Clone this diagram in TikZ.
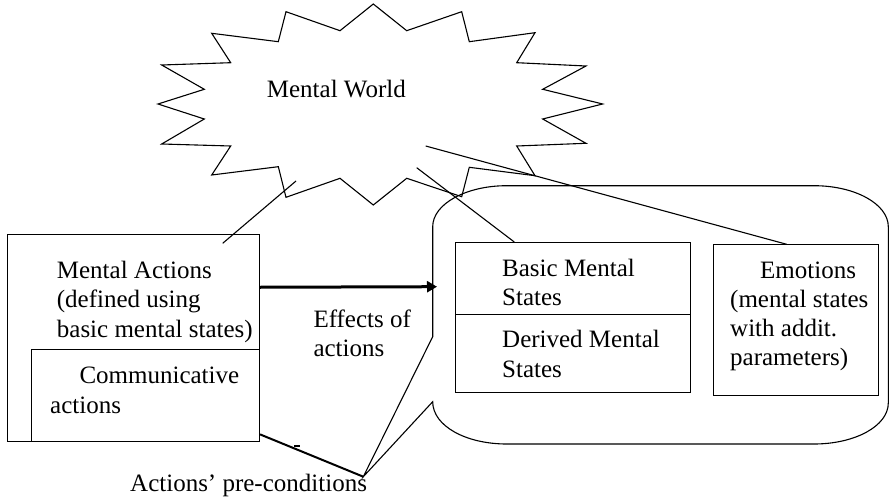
\documentclass[tikz,border=0pt]{standalone}
\usepackage{fontspec}
\setmainfont{Liberation Serif}
\usetikzlibrary{arrows.meta}
\begin{document}
\begin{tikzpicture}[x=1pt,y=-1pt,
  txt/.style={anchor=base west, inner sep=0pt, font=\fontsize{25}{30}\selectfont},
  outline/.style={draw, line width=1.1pt, line join=miter},
  box/.style={draw, line width=1.1pt, anchor=north west, inner sep=0pt},
  link/.style={line width=1.1pt},
  bold link/.style={line width=2pt},
  effect/.style={line width=3pt, -{Triangle[length=10pt,width=11pt]}}]
\useasboundingbox (0,0) rectangle (889,503);

% starburst: the mental world
\draw[outline] (373.3,4) -- (406.7,30.7) -- (461.7,11.7) -- (469.3,41.7)
  -- (535,32.7) -- (516.7,62.7) -- (586,66) -- (542.7,89.3) -- (602.7,104)
  -- (542.7,119) -- (586,143.3) -- (516.7,146) -- (535,175.7) -- (469.3,167.3)
  -- (461.7,196.7) -- (406.7,178.3) -- (373.3,205) -- (340,178.3) -- (286,197.3)
  -- (278.3,166.7) -- (211.7,175) -- (230.7,146) -- (161.7,144) -- (204.3,119)
  -- (158,104) -- (204.3,89.3) -- (161.7,65) -- (230.7,62.7) -- (211.7,33.3)
  -- (278.3,41.7) -- (286,11.7) -- (340,30.7) -- cycle;
\node[txt] (world) at (266.7,97) {Mental World};

% rounded callout holding the mental states
\coordinate (tip) at (363.3,476.7);
\draw[outline] (506.7,185.7) -- (814,185.7)
  .. controls (855,185.7) and (888.3,204) .. (888.3,226.7)
  -- (888.3,403)
  .. controls (888.3,426) and (855,444) .. (814,444)
  -- (506.7,444)
  .. controls (466,444) and (432.7,426) .. (432.7,401.7)
  -- (tip) -- (432.7,336.7) -- (432.7,226.7)
  .. controls (432.7,204) and (466,185.7) .. (506.7,185.7);
\coordinate (cl) at (437,286.7);

% mental actions
\node[box, minimum width=252pt, minimum height=207pt] (ma) at (7,234) {};
\node[box, minimum width=228.3pt, minimum height=91.7pt] (ca) at (30.7,349.3) {};
\node[txt] (ma1) at (56.7,278) {Mental Actions};
\node[txt] (ma2) at (56.7,307.5) {(defined using};
\node[txt] (ma3) at (56.7,337) {basic mental states)};
\node[txt] (ca1) at (79.3,383.3) {Communicative};
\node[txt] (ca2) at (50,413) {actions};

% states
\node[box, minimum width=234.7pt, minimum height=72pt] (bms) at (455.3,242) {};
\node[box, minimum width=234.7pt, minimum height=78.3pt] (dms) at (455.3,314) {};
\node[txt] (b1) at (502,276) {Basic Mental};
\node[txt] (b2) at (502,305) {States};
\node[txt] (d1) at (502,347.3) {Derived Mental};
\node[txt] (d2) at (502,377) {States};

\node[box, minimum width=164.4pt, minimum height=150.7pt] (emo) at (713.3,244.3) {};
\node[txt] (e1) at (760,278.3) {Emotions};
\node[txt] (e2) at (730,307.3) {(mental states};
\node[txt] (e3) at (730,336.3) {with addit.};
\node[txt] (e4) at (730,365.3) {parameters)};

% labels
\node[txt] (eff1) at (313.3,327.3) {Effects of};
\node[txt] (eff2) at (313.3,356.7) {actions};
\node[txt] (pre) at (130,491) {Actions’ pre-conditions};

% connectors
\coordinate (sbA) at (296,181);
\coordinate (maT) at (222.7,243.3);
\draw[link] (maT) -- (sbA);
\coordinate (sbB) at (416.7,167.7);
\draw[link] (sbB) -- ([xshift=59pt]bms.north west);
\coordinate (sbC) at (425.7,146);
\draw[link] (sbC) -- ([xshift=73.4pt]emo.north west);
\draw[effect] ([yshift=50.8pt]ma.east) -- (cl);
\draw[bold link] ([yshift=7.7pt]ma.south east) -- (tip);
\draw[line width=1.3pt] (294,446) -- (300,446);
\end{tikzpicture}
\end{document}
